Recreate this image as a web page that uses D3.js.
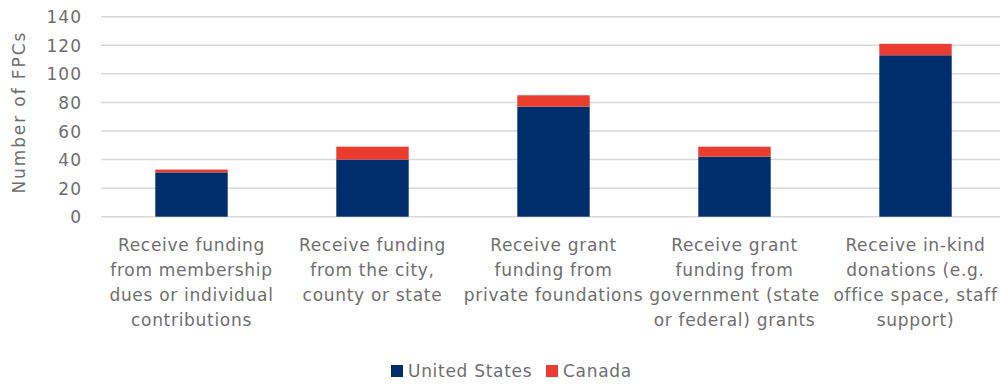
<!DOCTYPE html>
<html>
<head>
<meta charset="utf-8">
<script src="https://cdn.jsdelivr.net/npm/d3@7"></script>
<style>
  html, body { margin: 0; padding: 0; background: #fff; }
  svg text { font-family: "DejaVu Sans", sans-serif; fill: #6e6e6e; }
</style>
</head>
<body>
<svg id="chart" width="1000" height="386"></svg>
<script>
// Funding sources reported by food policy councils, by country
const categories = [
  ["Receive funding", "from membership", "dues or individual", "contributions"],
  ["Receive funding", "from the city,", "county or state"],
  ["Receive grant", "funding from", "private foundations"],
  ["Receive grant", "funding from", "government (state", "or federal) grants"],
  ["Receive in-kind", "donations (e.g.", "office space, staff", "support)"]
];
const unitedStates = [31, 40, 77, 42, 113];
const canada = [2, 9, 8, 7, 8];
const seriesNames = ["United States", "Canada"];
const seriesColors = ["#002E6D", "#EA3D30"];
const yTicks = [0, 20, 40, 60, 80, 100, 120, 140];

const svg = d3.select("#chart");
const margin = { left: 101, right: -6, top: 17, bottom: 169 };
const W = 1000, H = 386;

const keys = categories.map((c, i) => i);
const x = d3.scaleBand()
  .domain(keys)
  .range([margin.left, W - margin.right])
  .paddingInner(0.6)
  .paddingOuter(0.3);

const y = d3.scaleLinear()
  .domain([0, 140])
  .range([H - margin.bottom - 0.3, margin.top - 0.3]);

// gridlines
svg.append("g")
  .selectAll("line")
  .data(yTicks)
  .join("line")
  .attr("x1", margin.left)
  .attr("x2", W)
  .attr("y1", d => y(d))
  .attr("y2", d => y(d))
  .attr("stroke", "#d9d9d9")
  .attr("stroke-width", 1.5);

// y axis tick labels
const yAxis = d3.axisLeft(y).tickValues(yTicks).tickSize(0).tickPadding(0);
svg.append("g")
  .attr("transform", `translate(${margin.left - 19},0)`)
  .call(yAxis)
  .call(g => g.select(".domain").remove())
  .call(g => g.selectAll("text")
    .attr("font-size", 17)
    .attr("dy", "0.36em")
    .attr("letter-spacing", 1)
    .style("font-family", "DejaVu Sans, sans-serif")
    .attr("fill", "#6e6e6e"));

// y axis title
svg.append("text")
  .attr("transform", `translate(25,${(y(140) + y(0)) / 2 - 4.5}) rotate(-90)`)
  .attr("text-anchor", "middle")
  .attr("font-size", 17)
  .attr("letter-spacing", 1.9)
  .text("Number of FPCs");

// stacked bars
const rows = keys.map(i => ({ key: i, us: unitedStates[i], ca: canada[i] }));
const stack = d3.stack().keys(["us", "ca"]);
const stacked = stack(rows);

svg.append("g")
  .selectAll("g")
  .data(stacked)
  .join("g")
  .attr("fill", (d, i) => seriesColors[i])
  .selectAll("rect")
  .data(d => d)
  .join("rect")
  .attr("x", d => x(d.data.key))
  .attr("width", x.bandwidth())
  .attr("y", d => y(d[1]))
  .attr("height", d => y(d[0]) - y(d[1]));

// category labels
const xAxis = svg.append("g");
categories.forEach((lines, i) => {
  const cx = x(i) + x.bandwidth() / 2;
  const t = xAxis.append("text")
    .attr("text-anchor", "middle")
    .attr("font-size", 17)
    .attr("letter-spacing", 0.7)
    .attr("x", cx)
    .attr("y", 251);
  lines.forEach((ln, j) => {
    t.append("tspan")
      .attr("x", cx)
      .attr("dy", j === 0 ? 0 : 25)
      .text(ln);
  });
});

// legend
const legend = svg.append("g");
const legendItems = [
  { name: seriesNames[0], color: seriesColors[0], x: 391 },
  { name: seriesNames[1], color: seriesColors[1], x: 546 }
];
legendItems.forEach(it => {
  legend.append("rect")
    .attr("x", it.x).attr("y", 365)
    .attr("width", 12).attr("height", 12)
    .attr("fill", it.color);
  legend.append("text")
    .attr("x", it.x + 17).attr("y", 377)
    .attr("font-size", 17)
    .attr("letter-spacing", 0.7)
    .text(it.name);
});
</script>
</body>
</html>
